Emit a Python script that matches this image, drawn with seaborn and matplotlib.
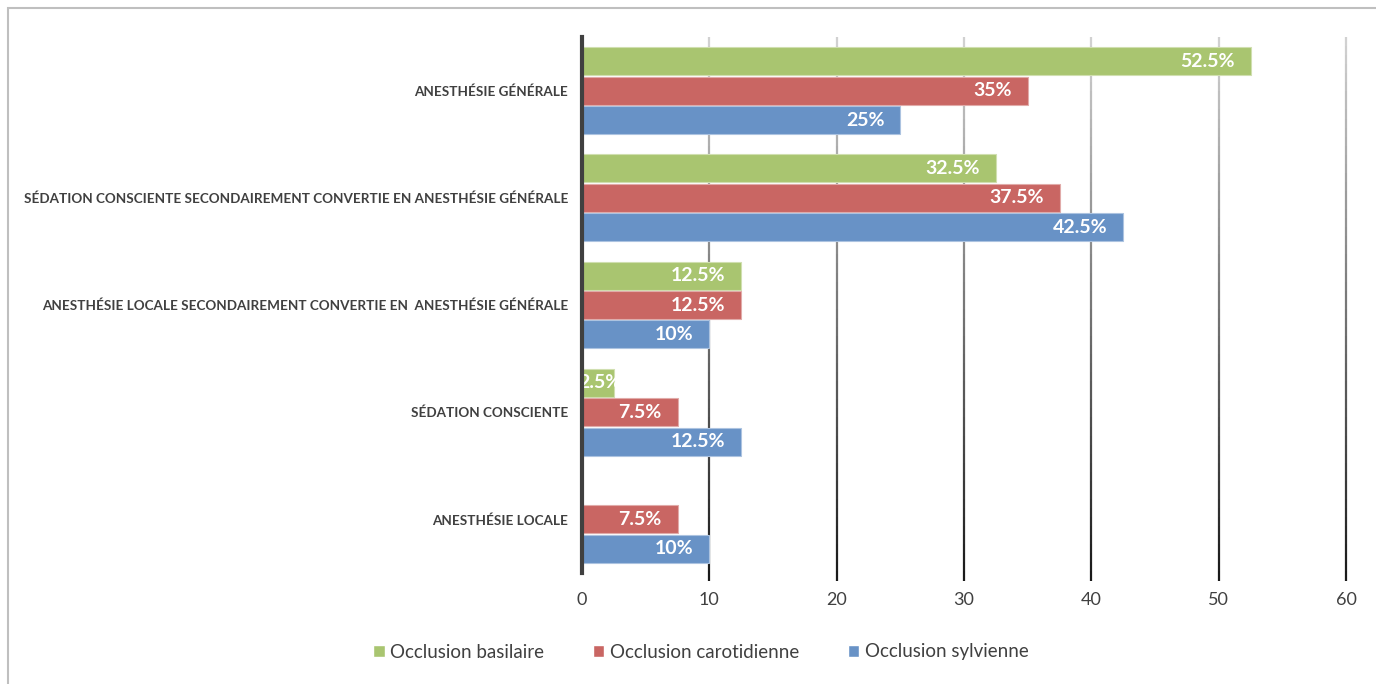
import numpy as np
import pandas as pd
import seaborn as sns
import matplotlib.pyplot as plt
from matplotlib.collections import LineCollection
from matplotlib.patches import Rectangle
from matplotlib.colors import to_rgb

categories = [
    "ANESTHÉSIE GÉNÉRALE",
    "SÉDATION CONSCIENTE SECONDAIREMENT CONVERTIE EN ANESTHÉSIE GÉNÉRALE",
    "ANESTHÉSIE LOCALE SECONDAIREMENT CONVERTIE EN  ANESTHÉSIE GÉNÉRALE",
    "SÉDATION CONSCIENTE",
    "ANESTHÉSIE LOCALE",
]
series = ["Occlusion basilaire", "Occlusion carotidienne", "Occlusion sylvienne"]
basilaire = [52.5, 32.5, 12.5, 2.5, 0]
carotidienne = [35, 37.5, 12.5, 7.5, 7.5]
sylvienne = [25, 42.5, 10, 12.5, 10]
x_ticks = [0, 10, 20, 30, 40, 50, 60]

colors = ["#A9C570", "#C96663", "#6892C6"]

rows = []
for name, vals in zip(series, [basilaire, carotidienne, sylvienne]):
    for cat, v in zip(categories, vals):
        rows.append({"cat": cat, "val": v, "serie": name})
df = pd.DataFrame(rows)

sns.set_theme(style="white")
plt.rcParams["font.family"] = ["Lato", "DejaVu Sans"]

fig = plt.figure(figsize=(13.76, 6.84), dpi=100)
W, H = 1376, 684
ax = fig.add_axes([582 / W, 1 - 573 / H, (1346 - 582) / W, (573 - 37) / H])

# outer frame
fig.patches.append(Rectangle((8 / W, -0.05), 1.2, 1 - 8 / H + 0.05,
                             transform=fig.transFigure, fill=False,
                             edgecolor="#BFBFBF", linewidth=1.5, zorder=0))

sns.barplot(data=df, y="cat", x="val", hue="serie", orient="h",
            palette=colors, width=0.825, gap=0.05, ax=ax,
            order=categories, hue_order=series, legend=False,
            edgecolor="white", linewidth=0.8, saturation=1, zorder=3)
for p in ax.patches:
    ec = np.array(to_rgb(p.get_facecolor()))
    p.set_edgecolor(tuple(ec + (1 - ec) * 0.45))

ax.set_xlim(0, 60)
ax.set_ylim(4.5, -0.5)
ax.set_xticks(x_ticks)
ax.set_xticklabels([str(t) for t in x_ticks])
ax.tick_params(axis="x", labelsize=13, colors="#404040", length=0, pad=14)
ax.tick_params(axis="y", labelsize=9.7, length=0, pad=10)
for lbl in ax.get_yticklabels():
    lbl.set_fontweight("bold")
    lbl.set_color("#404040")
ax.set_xlabel("")
ax.set_ylabel("")
for s in ["top", "right", "bottom"]:
    ax.spines[s].set_visible(False)
ax.spines["left"].set_color("#404040")
ax.spines["left"].set_linewidth(3)
ax.spines["left"].set_zorder(5)

# vertical gridlines fading from light grey at top to dark at bottom
n = 60
ys = np.linspace(-0.5, 4.57, n + 1)
for t in x_ticks[1:]:
    segs = [[(t, ys[i]), (t, ys[i + 1])] for i in range(n)]
    shade = np.linspace(0.82, 0.10, n)
    cols = [(s, s, s) for s in shade]
    lc = LineCollection(segs, colors=cols, linewidths=1.6, zorder=1, clip_on=False)
    ax.add_collection(lc)

# value labels inside the bar ends
for cont_idx, vals in enumerate([basilaire, carotidienne, sylvienne]):
    bars = ax.patches[cont_idx * len(categories):(cont_idx + 1) * len(categories)]
    for bar, v in zip(bars, vals):
        if v == 0:
            continue
        yc = bar.get_y() + bar.get_height() / 2
        if v < 5:
            ax.annotate(f"{v:g}%", xy=(0, yc), xytext=(-4, 0),
                        textcoords="offset pixels", ha="left", va="center",
                        color="white", fontsize=14, fontweight="bold",
                        zorder=4, annotation_clip=False)
        else:
            ax.annotate(f"{v:g}%", xy=(v, yc), xytext=(-16, 0),
                        textcoords="offset pixels", ha="right", va="center",
                        color="white", fontsize=14, fontweight="bold",
                        zorder=6, annotation_clip=False)

handles = [Rectangle((0, 0), 1, 1, facecolor=c, edgecolor="white") for c in colors]
fig.legend(handles, series, loc="center", bbox_to_anchor=(701 / W, 1 - 652 / H),
           ncol=3, frameon=False, fontsize=13.5, handlelength=0.6,
           handleheight=0.6, handletextpad=0.3, columnspacing=2.6,
           labelcolor="#404040")

fig.savefig("out.png", dpi=100)
